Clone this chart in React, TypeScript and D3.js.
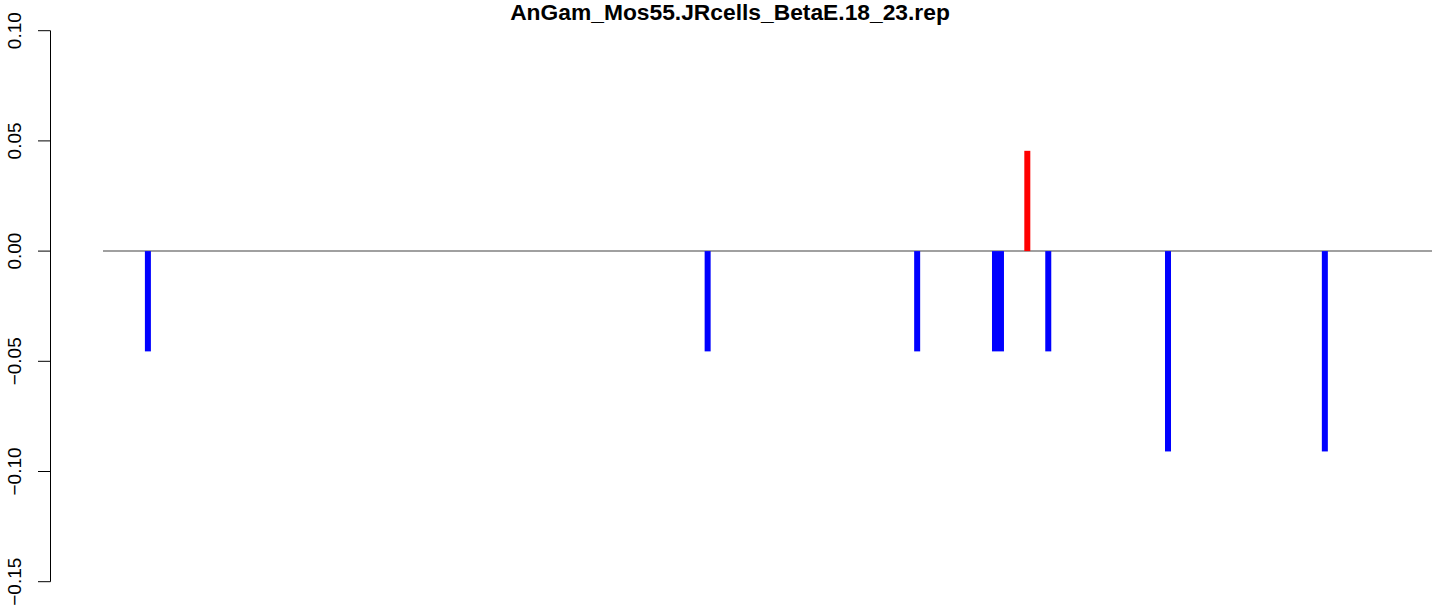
import React from "react";
import * as d3 from "d3";

const title = "AnGam_Mos55.JRcells_BetaE.18_23.rep";
const positions = [7.5, 101, 136, 149, 150, 154.4, 157.9, 177.9, 204.1];
const values = [-0.0455, -0.0455, -0.0455, -0.0455, -0.0455, 0.0455, -0.0455, -0.0909, -0.0909];
const colors = ["blue", "blue", "blue", "blue", "blue", "red", "blue", "blue", "blue"];
const yTicks = [-0.15, -0.1, -0.05, 0.0, 0.05, 0.1];
const yTickLabels = ["\u22120.15", "\u22120.10", "\u22120.05", "0.00", "0.05", "0.10"];
const xDomain = [0, 222];

export default function App() {
  const W = 1444, H = 611;
  const x = d3.scaleLinear().domain(xDomain).range([103, 1432]);
  const y = d3.scaleLinear().domain([-0.15, 0.1]).range([581.7, 30.7]);
  const barW = 6;
  const font = "'Liberation Sans', Arial, Helvetica, sans-serif";
  return (
    <svg width={W} height={H} style={{ position: "absolute", left: 0, top: 0, background: "#fff" }}>
      <text x={730} y={20} textAnchor="middle" fontFamily={font} fontWeight="bold" fontSize={22.8} fill="#000">
        {title}
      </text>
      <line x1={x(xDomain[0])} x2={x(xDomain[1])} y1={y(0)} y2={y(0)} stroke="#a0a0a0" strokeWidth={2} />
      {positions.map((p, i) => {
        const v = values[i];
        const y0 = y(0), y1 = y(v);
        return (
          <rect key={i} x={x(p) - barW / 2} width={barW} y={Math.min(y0, y1)} height={Math.abs(y1 - y0)} fill={colors[i]} />
        );
      })}
      <line x1={50.5} x2={50.5} y1={y(0.1)} y2={y(-0.15)} stroke="#000" strokeWidth={1} />
      {yTicks.map((t, i) => (
        <g key={i}>
          <line x1={38} x2={50.5} y1={y(t)} y2={y(t)} stroke="#000" strokeWidth={1} />
          <text
            transform={`translate(21,${y(t)}) rotate(-90)`}
            textAnchor="middle"
            fontFamily={font}
            fontSize={19}
            fill="#000"
          >
            {yTickLabels[i]}
          </text>
        </g>
      ))}
    </svg>
  );
}
